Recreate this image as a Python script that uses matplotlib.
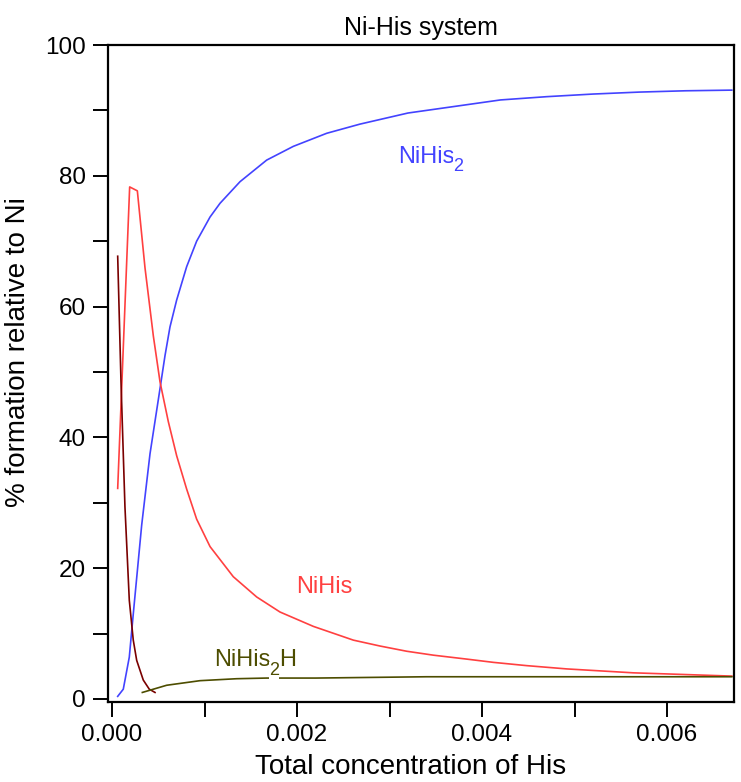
import matplotlib
matplotlib.use("Agg")
import matplotlib.pyplot as plt
from matplotlib.ticker import MultipleLocator, FormatStrFormatter

plt.rcParams['font.family'] = ['Liberation Sans', 'DejaVu Sans']

# NiHis2 (blue)
x_nihis2 = [0.0000616, 0.000122, 0.000187, 0.00023, 0.000321, 0.000411, 0.0005,
            0.000573, 0.000627, 0.000699, 0.000807, 0.000915, 0.00106, 0.001168,
            0.001384, 0.001672, 0.00196, 0.002321, 0.00268, 0.0032, 0.0037, 0.0042,
            0.0047, 0.0052, 0.0057, 0.0062, 0.0067]
y_nihis2 = [0.4, 1.5, 6.4, 13.0, 26.6, 37.5, 45.7, 52.5, 56.9, 61.0, 66.1, 70.0,
            73.7, 75.8, 79.1, 82.4, 84.5, 86.5, 87.9, 89.6, 90.6, 91.6, 92.1, 92.5,
            92.8, 93.0, 93.1]

# NiHis (red)
x_nihis = [0.0000616, 0.000191, 0.000274, 0.000357, 0.000447, 0.000519, 0.000609,
           0.000699, 0.000807, 0.000915, 0.00106, 0.001311, 0.001564, 0.001816,
           0.002177, 0.002609, 0.002897, 0.003186, 0.003474, 0.003834, 0.004123,
           0.004483, 0.004915, 0.005276, 0.005636, 0.006068, 0.0067]
y_nihis = [32.2, 78.3, 77.7, 65.9, 55.5, 48.5, 42.4, 37.2, 32.1, 27.5, 23.3, 18.7,
           15.6, 13.3, 11.1, 9.0, 8.1, 7.3, 6.7, 6.1, 5.6, 5.1, 4.6, 4.3, 4.0, 3.8, 3.5]

# free Ni (dark red)
x_ni = [0.0000616, 0.0000973, 0.00014, 0.000187, 0.00023, 0.000267, 0.000338,
        0.000403, 0.000465]
y_ni = [67.7, 48.5, 29.4, 15.1, 9.0, 5.9, 2.9, 1.5, 1.0]

# NiHis2H (olive)
x_nihis2h = [0.000328, 0.000591, 0.000951, 0.001348, 0.001672, 0.0022, 0.0034,
             0.0045, 0.0056, 0.0067]
y_nihis2h = [1.0, 2.1, 2.8, 3.1, 3.2, 3.2, 3.4, 3.4, 3.4, 3.4]

x_ticks_major = [0.000, 0.002, 0.004, 0.006]
y_ticks_major = [0, 20, 40, 60, 80, 100]

c_blue = '#4343FF'
c_red = '#FF4040'
c_dark = '#7A0000'
c_olive = '#4D4D00'

fig = plt.figure(figsize=(7.41, 7.82), dpi=100)
ax = fig.add_axes([108/741, 1-702/782, (734-108)/741, (702-45)/782])

lw = 1.2
ax.plot(x_nihis2, y_nihis2, color=c_blue, lw=lw)
ax.plot(x_nihis, y_nihis, color=c_red, lw=lw)
ax.plot(x_ni, y_ni, color=c_dark, lw=lw)
ax.plot(x_nihis2h, y_nihis2h, color=c_olive, lw=lw)

fs_lab = 17
fs_sub = 13


def label(x, y, main, sub, tail, color):
    t = ax.text(x, y, main, color=color, fontsize=fs_lab, va='center', ha='left', zorder=5)
    if sub:
        s = ax.annotate(sub, xy=(1, 0.05), xycoords=t, xytext=(-1.0, 0),
                        textcoords='offset points', va='center', ha='left',
                        color=color, fontsize=fs_sub, zorder=5,
                        bbox=dict(fc='white', ec='none', pad=0))
        if tail:
            ax.annotate(tail, xy=(1, 0), xycoords=(s, t), xytext=(0, 0),
                        textcoords='offset points', va='bottom', ha='left',
                        color=color, fontsize=fs_lab, zorder=5)


label(0.00309, 82.9, 'NiHis', '2', None, c_blue)
ax.text(0.00199, 17.1, 'NiHis', color=c_red, fontsize=fs_lab, va='center', ha='left')
label(0.0011, 5.9, 'NiHis', '2', 'H', c_olive)

ax.set_xlim(-0.0000432, 0.006724)
ax.set_ylim(-0.46, 100)
ax.set_xticks(x_ticks_major)
ax.set_yticks(y_ticks_major)
ax.xaxis.set_minor_locator(MultipleLocator(0.001))
ax.yaxis.set_minor_locator(MultipleLocator(10))
ax.xaxis.set_major_formatter(FormatStrFormatter('%.3f'))

ax.tick_params(which='both', direction='out', length=11, width=1.4, labelsize=17.5, pad=5,
               top=False, right=False)
for s in ax.spines.values():
    s.set_linewidth(1.6)

ax.set_title('Ni-His system', fontsize=18, pad=7)
ax.set_xlabel('Total concentration of His', fontsize=20)
ax.set_ylabel('% formation relative to Ni', fontsize=20)
ax.xaxis.set_label_coords(0.484, -0.079)
ax.yaxis.set_label_coords(-0.123, 0.533)

fig.savefig('out.png', dpi=100)
